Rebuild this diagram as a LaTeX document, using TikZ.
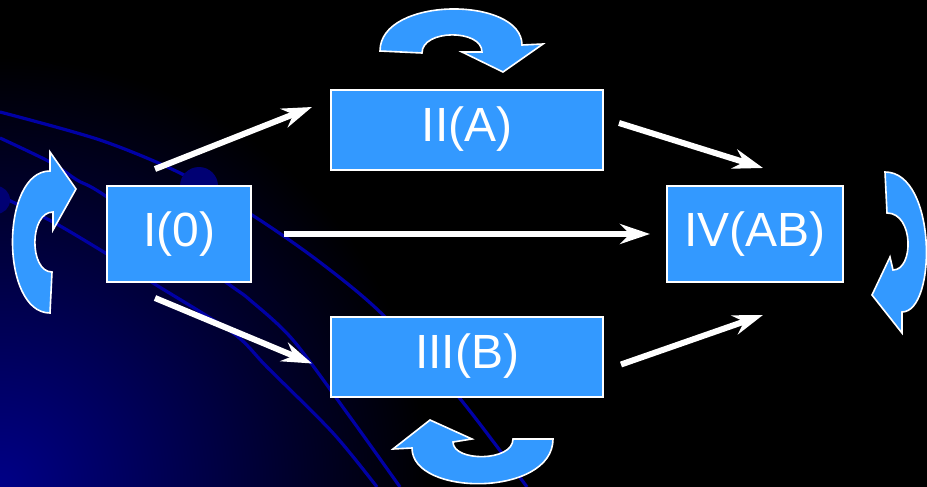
\documentclass[tikz,border=0pt]{standalone}
\usepackage{fontspec}
\setmainfont{Liberation Sans}
\usetikzlibrary{arrows.meta,positioning}

\definecolor{boxblue}{HTML}{3399FF}
\definecolor{bgnavy}{RGB}{0,0,135}
\definecolor{lineblue}{RGB}{0,0,165}

\begin{document}
\begin{tikzpicture}[
      x=0.5pt,y=-0.5pt,
      phase/.style={draw=white,line width=1pt,fill=boxblue,text=white,inner sep=0pt,
        minimum width=72pt,minimum height=48pt,font=\fontsize{24}{28}\selectfont},
      wide/.style={minimum width=136pt,minimum height=40pt},
      flow/.style={draw=white,line width=3pt,-{Stealth[length=15pt,width=10pt,inset=5pt]}},
      turn/.style={fill=boxblue,draw=white,line width=0.8pt},
      bgline/.style={draw=lineblue,line width=1.6pt}
    ]
      \useasboundingbox (0,0) rectangle (927,487);

      % Background
      \fill[black] (0,0) rectangle (927,487);
      \begin{scope}
        \clip (0,0) rectangle (927,487);
        \shade[inner color=bgnavy,outer color=black] (0,487) circle (430);
        \draw[bgline] plot[smooth] coordinates {(0,112) (100,140) (180,173) (252,215) (317,260) (380,312) (457,395) (527,487)};
        \draw[bgline] plot[smooth] coordinates {(0,138) (50,162) (77,180) (107,197) (227,283) (250,300) (293,340) (350,417) (400,487)};
        \draw[bgline] plot[smooth] coordinates {(0,196) (53,222) (107,254) (153,283) (233,333) (267,367) (333,433) (377,487)};
        \fill[bgnavy!85!black] (199,186) circle (19);
        \fill[bgnavy!85!black] (-4,200) circle (14);
      \end{scope}

      % States
      \node[phase] (i0) at (179,234) {I(0)};
      \node[phase,wide] (ii) at (467,129.5) {II(A)};
      \node[phase,wide,below=72.5pt of ii] (iii) {III(B)};
      \node[phase,minimum width=88pt] (iv) at (755,234) {IV(AB)};

      % Transitions
      \draw[flow] ([shift={(-24,-16)}]i0.north) -- ([shift={(-18,-22.5)}]ii.west);
      \draw[flow] ([shift={(-24,15)}]i0.south) -- ([shift={(-18,7)}]iii.west);
      \draw[flow] ([xshift=16pt]i0.east) -- ([xshift=-8pt]iv.west);
      \draw[flow] ([shift={(15,-6.5)}]ii.east) -- ([shift={(8,-17)}]iv.north);
      \draw[flow] ([shift={(17,8)}]iii.east) -- ([shift={(8,32)}]iv.south);

      % Self loops
      \filldraw[turn] (50,313) .. controls (0,313) and (0,171) .. (50,171) -- (50,152) -- (76,189)
        -- (53,230) -- (53,212) .. controls (29,212) and (29,272) .. (52,272) -- cycle;
      \filldraw[turn] (380,51) .. controls (380,-4) and (522,-4) .. (522,45) -- (543,44) -- (503,72)
        -- (462,52) -- (482,52) .. controls (482,29) and (422,29) .. (422,53) -- cycle;
      \filldraw[turn] (553,439) .. controls (553,497) and (412,497) .. (412,448) -- (393,449) -- (430,420)
        -- (472,439) -- (453,442) .. controls (453,462) and (513,462) .. (513,439) -- cycle;
      \filldraw[turn] (885,172) .. controls (937,172) and (937,312) .. (902,312) -- (902,333) -- (872,295)
        -- (890,257) -- (893,270) .. controls (914,270) and (914,213) .. (887,213) -- cycle;
    \end{tikzpicture}
\end{document}
